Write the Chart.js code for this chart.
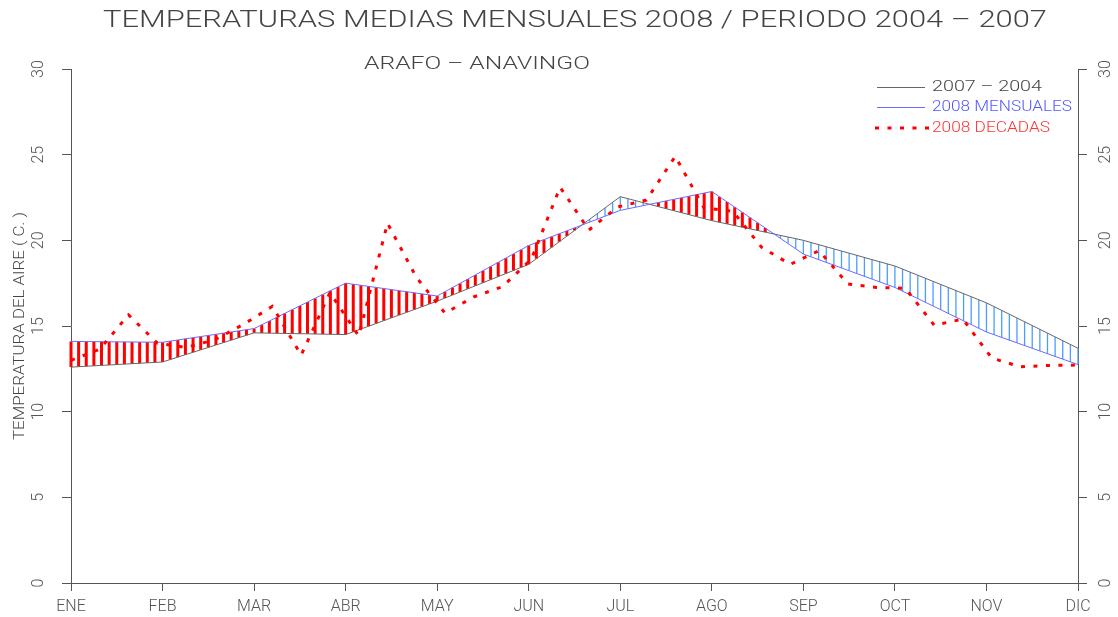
<!DOCTYPE html>
<html>
<head>
<meta charset="utf-8">
<script src="https://cdn.jsdelivr.net/npm/chart.js@4/dist/chart.umd.min.js"></script>
<style>
  html, body { margin: 0; padding: 0; background: #fff; }
  #caja { width: 1118px; height: 617px; }
</style>
</head>
<body>
<div id="caja"><canvas id="grafico" width="1118" height="617"></canvas></div>
<script>
// meses del eje X
var meses = ['ENE', 'FEB', 'MAR', 'ABR', 'MAY', 'JUN', 'JUL', 'AGO', 'SEP', 'OCT', 'NOV', 'DIC'];
// media mensual del periodo 2004 - 2007 (grados C)
var media0407 = [12.6, 12.9, 14.6, 14.5, 16.45, 18.6, 22.55, 21.15, 20.0, 18.5, 16.35, 13.7];
// medias mensuales 2008
var mensual2008 = [14.1, 14.05, 14.85, 17.5, 16.75, 19.7, 21.75, 22.85, 19.2, 17.25, 14.65, 12.75];
// medias por decadas 2008 (36 decadas, de ENE a DIC)
var decadas2008 = [
  13.0, 13.65, 15.65, 14.0, 13.75, 14.2, 15.1, 16.15, 13.3, 16.95, 14.42, 21.0,
  17.85, 15.75, 16.7, 17.3, 18.9, 23.1, 20.6, 21.95, 22.35, 24.9, 21.9, 21.7,
  19.6, 18.6, 19.4, 17.45, 17.25, 17.2, 15.05, 15.4, 13.13, 12.62, 12.7, 12.72
];
// marcas del eje Y
var marcasY = [0, 5, 10, 15, 20, 25, 30];

var gris = '#555555';
var fuente = "Roboto, 'DejaVu Sans', sans-serif";

// escribe un texto estirado en horizontal hasta el ancho pedido
function texto(ctx, s, x, y, ancho, tam, color, alin, giro) {
  ctx.save();
  ctx.font = '300 ' + tam + 'px ' + fuente;
  ctx.fillStyle = color;
  ctx.textBaseline = 'middle';
  ctx.textAlign = alin;
  var w = ctx.measureText(s).width;
  ctx.translate(x, y);
  if (giro) ctx.rotate(giro);
  ctx.scale(ancho / w, 1);
  ctx.fillText(s, 0, 0);
  ctx.restore();
}

// rayado vertical entre la media 2004-2007 y el 2008 mensual
var rayado = {
  id: 'rayado',
  beforeDatasetsDraw: function (chart) {
    var ctx = chart.ctx, sx = chart.scales.x, sy = chart.scales.y;
    ctx.save();
    for (var k = 0; k <= 132; k++) {
      var t = k / 12;
      var m = Math.min(Math.floor(t), 10), f = t - m;
      var a = media0407[m] + (media0407[m + 1] - media0407[m]) * f;
      var b = mensual2008[m] + (mensual2008[m + 1] - mensual2008[m]) * f;
      if (Math.abs(a - b) < 0.02) continue;
      var px = sx.getPixelForValue(t);
      ctx.beginPath();
      if (b > a) {
        ctx.strokeStyle = '#ff0000';
        ctx.lineWidth = 3;
      } else {
        ctx.strokeStyle = '#4a9dff';
        ctx.lineWidth = 1.3;
      }
      ctx.moveTo(px, sy.getPixelForValue(a));
      ctx.lineTo(px, sy.getPixelForValue(b));
      ctx.stroke();
    }
    ctx.restore();
  }
};

// titulos, leyenda y rotulo del eje Y
var rotulos = {
  id: 'rotulos',
  afterDraw: function (chart) {
    var ctx = chart.ctx;
    texto(ctx, 'TEMPERATURAS MEDIAS MENSUALES 2008 / PERIODO 2004 \u2013 2007', 575, 21, 944, 24, '#444444', 'center');
    texto(ctx, 'ARAFO \u2013 ANAVINGO', 477, 64, 226, 19, '#444444', 'center');
    texto(ctx, 'TEMPERATURA DEL AIRE ( C. )', 20, 326, 228, 15, '#444444', 'center', -Math.PI / 2);

    // leyenda
    ctx.save();
    ctx.lineWidth = 1;
    ctx.strokeStyle = '#666666';
    ctx.beginPath(); ctx.moveTo(877, 87.5); ctx.lineTo(925, 87.5); ctx.stroke();
    ctx.strokeStyle = '#6b6bff';
    ctx.beginPath(); ctx.moveTo(877, 107.5); ctx.lineTo(925, 107.5); ctx.stroke();
    ctx.strokeStyle = '#ff0000';
    ctx.lineWidth = 3;
    ctx.setLineDash([4, 8.5]);
    ctx.beginPath(); ctx.moveTo(875, 128); ctx.lineTo(930, 128); ctx.stroke();
    ctx.restore();
    texto(ctx, '2007 \u2013 2004', 932, 87, 110, 15, '#444444', 'left');
    texto(ctx, '2008 MENSUALES', 932, 107, 140, 15, '#5555ff', 'left');
    texto(ctx, '2008 DECADAS', 932, 128, 118, 15, '#ff3333', 'left');
  }
};

function ejeY(posicion, ancho, sep) {
  return {
    type: 'linear',
    position: posicion,
    min: 0,
    max: 30,
    afterBuildTicks: function (s) { s.ticks = marcasY.map(function (v) { return { value: v }; }); },
    afterFit: function (s) { s.width = ancho; },
    grid: { drawOnChartArea: false, tickLength: 9, color: gris },
    border: { color: gris },
    ticks: {
      minRotation: 90, maxRotation: 90, crossAlign: 'center', padding: sep,
      color: gris, font: { family: fuente, size: 16, weight: 300 }
    }
  };
}

new Chart(document.getElementById('grafico'), {
  type: 'line',
  data: {
    datasets: [{
      label: '2008 DECADAS',
      data: decadas2008.map(function (v, i) { return { x: i * 11 / 35, y: v }; }),
      borderColor: '#ff0000',
      borderWidth: 3,
      borderDash: [4, 8.5],
      pointRadius: 0,
      tension: 0,
      fill: false
    }, {
      label: '2008 MENSUALES',
      data: mensual2008.map(function (v, i) { return { x: i, y: v }; }),
      borderColor: '#6b6bff',
      borderWidth: 1,
      pointRadius: 0,
      fill: false
    }, {
      label: '2007 - 2004',
      data: media0407.map(function (v, i) { return { x: i, y: v }; }),
      borderColor: '#666666',
      borderWidth: 1,
      pointRadius: 0,
      fill: false
    }]
  },
  options: {
    responsive: false,
    animation: false,
    layout: { padding: { top: 69, left: 0, right: 0, bottom: 0 } },
    plugins: { legend: { display: false }, tooltip: { enabled: false } },
    scales: {
      x: {
        type: 'linear',
        min: 0,
        max: 11,
        afterBuildTicks: function (s) { s.ticks = meses.map(function (m, i) { return { value: i }; }); },
        afterFit: function (s) { s.height = 34; },
        grid: { drawOnChartArea: false, tickLength: 8, color: gris },
        border: { color: gris },
        ticks: {
          autoSkip: false, maxRotation: 0, padding: 6,
          color: gris, font: { family: fuente, size: 16, weight: 300 },
          callback: function (v) { return meses[v]; }
        }
      },
      y: ejeY('left', 71, 14),
      y2: ejeY('right', 40, 10)
    }
  },
  plugins: [rayado, rotulos]
});
</script>
</body>
</html>
